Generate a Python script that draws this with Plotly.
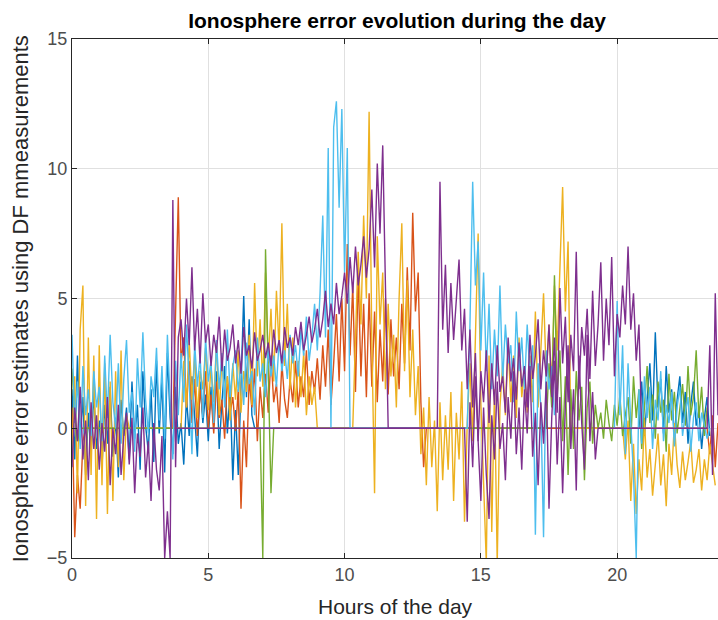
import plotly.graph_objects as go

# ---------------- data (hours of the day, ionosphere error estimates) -------------
DT = 0.1  # sampling step of the values below (hours)

# each series: list of runs (start hour, values spaced DT apart); runs are joined
blue_runs = [
    (0.0, [1.5, -1.2, 2.8, -0.5, 1.2, -1.8, 0.6, -1.0, 1.4, -0.8,
           0.3, -1.5, 0.9, -0.6, 1.6, -1.1, 0.4, -1.9, 1.1, -0.3,
           0.8, -1.2, 1.8, -0.4, 0.9, -1.6, 2.2, 0.1, -0.9, 1.5,
           -1.3, 2.6, -0.2, 1.9, -1.7, 2.9, 0.4, -1.0, 1.6, -0.6,
           0.2, -1.4, 1.2, -0.3, 2.0, 0.5, -1.1, 1.8, 0.2, 1.3,
           -0.5, 1.6, 0.1, 2.2, -0.8, 1.0, 2.4, -0.2, 1.5, -2.0,
           0.7, -1.8, 2.0, 5.1, 1.2, 4.2, 0.5, 0.0]),
    (20.8, [0.0, 1.8, -0.3, 1.2, 2.5, 0.3, 3.7, 0.8, 1.9, -0.2,
            2.4, 0.6, 1.5, -0.4, 1.1, 2.0, 0.2, 1.4, -0.6, 0.9,
            1.8, 0.1, 0.7, -0.8, 0.4, 1.2, -0.3]),
]

orange_runs = [
    (0.0, [0.8, -4.2, -1.8, -3.1, -0.5, 0.0]),
    (3.7, [0.0, 4.0, 8.9, 2.5,
           3.5, 0.8, 2.6, 0.2, 1.9, -0.3, 1.5, 0.5, 2.2, 0.0,
           1.3, -0.2, 1.8, 0.4, 1.1, -0.4, 2.0, 0.6, 1.2, -0.1,
           1.5, -3.1, 0.3, -1.5, 1.9, 0.8, 2.3, -0.5, 1.6, 0.4,
           2.1, 0.6, 2.8, 1.0, 1.7, 0.2, 2.5, 1.1, 0.4, 1.9,
           1.0, 2.6, 0.8, 2.0, 1.2, 3.0, 0.9, 2.2, 1.4, 2.7,
           1.1, 3.2, 1.6, 3.8, 0.9, 2.5, 4.4, 1.8, 5.0, 2.2,
           7.1, 2.8, 5.5, 1.4, 6.0, 2.0, 4.8, 1.2, 5.2, 1.6,
           4.5, 1.0, 3.8, 1.8, 5.0, 1.3, 4.2, 2.0, 3.5, 1.5,
           4.8, 2.5, 6.2, 3.0, 8.3, 4.5, 6.0, 1.0, -1.5, 0.0]),
    (23.3, [0.0, -1.0, 0.5, -1.5, 0.2]),
]

yellow_runs = [
    (0.0, [-1.0, 2.0, -2.5, 3.8, 5.5, -3.0, 3.5, -1.8, 2.8, -3.5,
           3.2, -2.2, 2.5, -3.3, 1.8, -2.8, 2.2, -1.5, 3.0, -2.0,
           0.5, 0.0]),
    (4.0, [0.0, 2.6, 0.8, 3.4, 1.1, 2.9, 0.4, 2.2, 1.5, 3.1,
           0.7, 2.4, 1.0, 3.3, 0.5, 2.7, 1.2, 2.0, 0.3, 2.5,
           1.1, 3.0, 0.6, 2.2, 1.4, 3.6, 0.9, 5.6, 2.0, 4.2,
           1.6, 6.0, 2.5, 4.6, 1.8, 5.3, 3.0, 7.9, 2.4, 4.8,
           1.5, 3.5, 0.8, 2.6, 1.2, 2.9, 0.5, 2.0, 0.9, 1.6, 0.0]),
    (10.3, [0.0, 3.5, 6.8, 4.0, 8.2, 5.0, 12.2, 3.4, -2.5, 7.4,
            4.0, 6.0, 1.5, 4.8, 2.0, 3.6, 0.8, 5.0, 7.9, 2.2,
            5.7, 1.2, 3.8, 0.5, 2.4,
            -1.0, 0.8, -2.2, 1.2, -1.5, 0.3, -3.2, 1.0, -2.0, 0.5,
            -1.6, 1.4, -2.8, 0.6, -1.2, 1.8, -3.6, 0.2, 2.5, -0.5,
            3.5, 7.5, 1.0, -2.5, -5.2, 2.8, -4.0, 1.5, -5.2, 0.8,
            2.5, 0.5, 3.2, 1.0, 2.8, 0.4, 3.5, 1.2, 2.2, 0.6,
            2.8, 1.0, 4.5, 0.8, 3.0, 5.2, 2.0, 4.0, 1.5, 5.5,
            3.0, 6.0, 9.3, 4.5, 7.2, 0.0]),
    (20.2, [0.0, -1.2, 0.3, -2.8, -0.6, -3.3, -1.2, -2.4, 0.4, -1.9,
            -0.8, -2.6, -1.5, -0.2, -2.2, -1.0, -3.0, -0.6, -1.8, 0.2,
            -1.4, -2.3, -0.9, -2.0, -1.3, -0.5, -2.1, -1.6, -0.8, -2.4,
            -1.2, -2.0, -0.6, -1.5, -2.2]),
]

green_runs = [
    (0.0, [2.3, 0.5, -0.5, 0.0]),
    (6.9, [0.0, -5.0, 6.9, 1.5, -2.5, 0.0]),
    (17.4, [0.0, 2.5, 0.8, 5.9, 1.2, 3.0, -0.5, 2.0, -1.8, 1.5,
            -0.8, 2.2, 0.3, 1.6, -2.0, 0.8, 1.8, -0.6, 0.9, 0.0,
            0.6, -0.4, 1.1, 0.2, -0.5, 0.9, 0.1, 1.3, -0.3, 0.5,
            1.2, -0.6, 2.0, 0.4, 1.5, -0.8, 1.0, 2.4, 0.2, 1.3,
            -0.4, 1.8, 0.6, 1.1, -0.9, 2.1, 0.3, 1.4, -0.2, 0.9,
            1.7, 0.1, 2.4, 0.5, 1.2, 3.0, 0.4, 1.6, -0.3, 0.8]),
]

lightblue_runs = [
    (0.0, [3.6, 0.2, 1.8, -0.8, 2.4, 0.5, 1.5, -0.3, 2.2, 0.8,
           1.6, -0.5, 2.8, 0.4, 3.6, 1.0, 0.0, 2.5, -0.6, 1.9,
           3.4, 0.6, 1.4, -0.9, 2.7, 0.8, 3.7, 1.1, -0.2, 2.0,
           1.2, 3.1, 0.3, 2.4, -0.4, 3.6, 1.0, -1.2, 2.6, 0.5,
           2.9, 1.0, 4.0, 1.8, -1.0, 3.3, 1.6, 2.8, 0.4, 3.5,
           1.8, 2.6, 0.2, 3.4, 1.5, 2.9, 0.8, 3.8, 1.2, 2.4,
           3.0, 1.4, 2.6, 0.9, 3.3, 1.7, 2.2, 0.5, 3.5, 1.8,
           2.5, 1.2, 3.1, 2.0, 2.8, 1.6, 3.4, 2.2, 3.0, 1.9,
           3.6, 2.5, 3.2, 2.0, 3.8, 2.8, 4.3, 2.6, 3.5, 4.8,
           3.0, 5.2, 8.2, 3.5, 10.8, 0.0, 11.6, 12.6, 8.5, 12.3,
           6.0, 10.8, 0.0]),
    (14.5, [0.0, 4.0, 9.5, 5.5, 7.2, 3.0, 6.0, 2.2, 4.8, 1.5,
            3.8, 2.0, 5.5, 1.8, 4.0, 2.5, 3.2, 1.0, 4.5, 2.2,
            3.5, 1.5, 4.0, 2.0, 3.2, -4.1, 2.5, 0.8, -4.2, 3.0,
            1.5, 2.4, 0.5, None]),
    (19.9, [0.0, 4.9, 0.5, 3.2, -1.0, 2.5, 0.2, -1.8, -5.0, 1.5,
            -0.6, 2.0, 0.4, 1.6, -0.8, 1.1, 0.3, 2.2, -0.5, 0.9,
            0.2, 1.4, -0.7, 0.8, 1.6, -0.3, 0.6, 1.2, -0.9, 0.4,
            1.0, -0.5, 0.6, 0.1, -0.4, 0.0]),
]

purple1_runs = [
    (0.0, [-1.5, 0.8, -0.5, 1.6, -1.2, 0.3, -2.0, 1.0, -0.8, 0.5,
           -1.6, 0.2, -0.9, 1.2, -2.2, 0.0, -1.0, 0.9, -1.8, -0.3,
           0.6, -1.4, 0.4, -2.5, -0.2, -1.1, 0.8, -1.9, -0.5, -2.8,
           0.2, -1.6, -2.4, -0.3, -5.0, -3.2, -5.0, 8.8, -1.5, 3.5,
           4.2, 2.8, 5.0, 3.2, 6.2, 3.0, 4.6, 2.5, 5.2, 3.3,
           4.0, 2.4, 3.6, 2.9, 4.3, 2.2, 3.8, 2.6, 3.1, 4.0,
           2.5, 3.4, 2.1, 3.9, 2.8, 3.2, 2.3, 3.7, 2.6, 3.0,
           3.6, 2.7, 3.3, 2.4, 3.8, 2.9, 3.4, 2.5, 3.9, 3.1,
           3.5, 2.8, 3.9, 3.2, 4.1, 3.0, 3.6, 4.3, 3.3, 3.8,
           4.6, 3.5, 4.2, 5.3, 3.9, 4.8, 4.0, 5.6, 4.4, 5.1,
           6.0, 4.8, 6.6, 5.2, 7.0, 5.5, 6.3, 7.4, 5.8, 6.9,
           9.2, 6.2, 10.2, 7.5, 10.9, 6.0, 0.0]),
    (13.4, [0.0, 9.5, 3.8, 6.3, 2.9, 5.6, 3.4, 4.8, 6.5, 3.0,
            4.6, 1.5, 3.8, 0.8, 2.9, -0.5, 2.2, 1.0, 3.0, 0.2,
            2.5, 0.9, 3.2, 1.4, 2.0, 0.6, 3.5, 1.8, 2.7, 1.1,
            3.3, 1.6, 2.4, 0.8, 3.6, 1.9, 2.8, 4.2, 1.5, 3.0,
            2.0, 4.0, 1.2, 3.5, 0.6, 5.4, 2.5, 4.3, 1.0, 3.6,
            2.2, 6.8, 1.5, 3.9, 2.8, 4.6, 1.9, 5.3, 2.4, 4.0,
            6.4, 2.6, 5.0, 3.2, 6.6, 2.0, 4.4, 3.5, 5.5, 4.0,
            7.0, 3.8, 5.2, 2.6, 4.0, 0.0]),
]

purple2_runs = [
    (3.8, [0.0]),
    (14.4, [0.0, -3.6, 1.0, -1.5, 2.0, -0.5, -2.8, 0.8, -1.8, -3.5,
            0.5, -1.2, 1.8, -0.8, 0.2, -2.0, 1.2, -0.4, 2.2, -1.0,
            0.8, -1.6, 1.5, -0.2, 2.4, -1.1, 0.6, -2.2, 1.0, -0.6,
            1.8, -3.1, 0.4, 2.6, -1.4, 1.2, -2.5, 0.9, 3.2, -0.8,
            1.5, -2.4, 2.8, 0.2, -1.6, 3.6, -0.5, 1.4, -1.2, 0.0]),
    (23.3, [0.0, 3.2, -1.8, 5.2, 0.5]),
]

series = [
    ("#0072BD", blue_runs),
    ("#D95319", orange_runs),
    ("#EDB120", yellow_runs),
    ("#77AC30", green_runs),
    ("#4DBEEE", lightblue_runs),
    ("#7E2F8E", purple1_runs),
    ("#7E2F8E", purple2_runs),
]

x_ticks = [0, 5, 10, 15, 20]
y_ticks = [-5, 0, 5, 10, 15]


def expand(runs):
    xs, ys = [], []
    for t0, vals in runs:
        for i, v in enumerate(vals):
            xs.append(round(t0 + i * DT, 3))
            ys.append(v)
    return xs, ys


fig = go.Figure()
for color, runs in series:
    xs, ys = expand(runs)
    fig.add_trace(go.Scatter(x=xs, y=ys, mode="lines",
                             line=dict(color=color, width=1.4),
                             connectgaps=False, showlegend=False,
                             hoverinfo="skip"))

FONT = "Liberation Sans, Arial, sans-serif"
axis_common = dict(
    showline=True, linecolor="#262626", linewidth=1,
    ticks="inside", ticklen=5, tickcolor="#262626",
    showgrid=True, gridcolor="#e0e0e0", gridwidth=1,
    zeroline=False,
    tickfont=dict(family=FONT, size=18, color="#4d4d4d"),
)

fig.update_layout(
    width=718, height=620,
    margin=dict(l=72, r=0, t=39, b=62),
    plot_bgcolor="white", paper_bgcolor="white",
    title=dict(text="<b>Ionosphere error evolution during the day</b>",
               x=0.553, xanchor="center", y=0.966, yanchor="middle",
               font=dict(family=FONT, size=21, color="#000000")),
    xaxis=dict(range=[0, 23.7], tickvals=x_ticks, mirror="ticks", **axis_common),
    yaxis=dict(range=[-5, 15], tickvals=y_ticks, mirror=False, **axis_common),
    annotations=[
        dict(text="Hours of the day", xref="paper", yref="paper",
             x=0.5, y=-0.094, xanchor="center", yanchor="middle", showarrow=False,
             font=dict(family=FONT, size=21, color="#262626")),
        dict(text="Ionosphere error estimates using DF mmeasurements",
             xref="paper", yref="paper", x=-0.0795, y=0.5, xanchor="center",
             yanchor="middle", textangle=-90, showarrow=False,
             font=dict(family=FONT, size=22, color="#262626")),
    ],
)

fig.write_html("out.html")
